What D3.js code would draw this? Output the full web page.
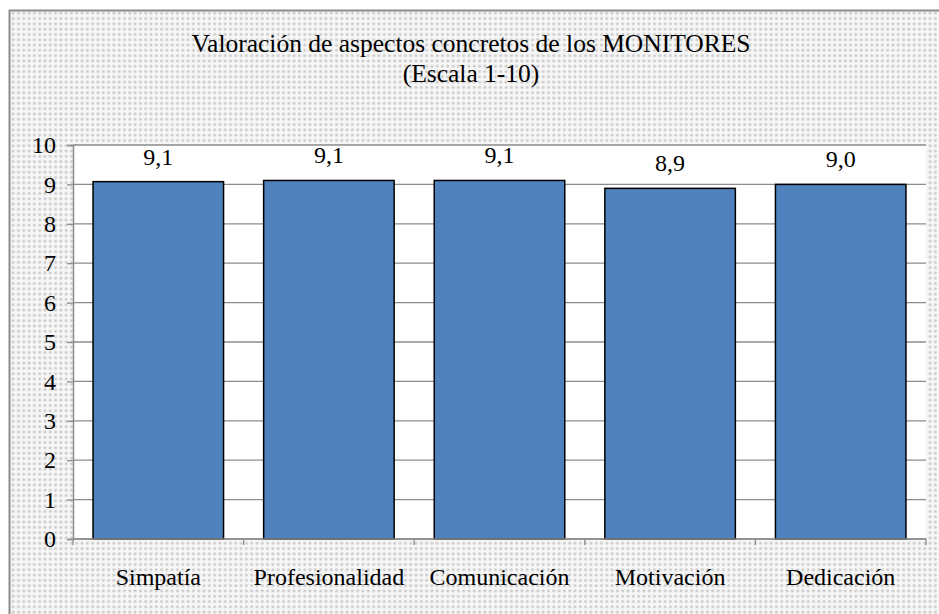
<!DOCTYPE html>
<html>
<head>
<meta charset="utf-8">
<script src="https://cdn.jsdelivr.net/npm/d3@7"></script>
<style>
  body { margin: 0; background: #fff; }
  text { font-family: "Liberation Serif", "Times New Roman", serif; fill: #000; }
</style>
</head>
<body>
<div id="chart"></div>
<script>
var categories = ["Simpatía", "Profesionalidad", "Comunicación", "Motivación", "Dedicación"];
var values = [9.07, 9.1, 9.1, 8.9, 9.0];
var valueLabels = ["9,1", "9,1", "9,1", "8,9", "9,0"];
var yTicks = [0, 1, 2, 3, 4, 5, 6, 7, 8, 9, 10];

var fullwidth = 939, fullheight = 614;
var margin = { top: 145, right: 13, bottom: 75, left: 73 };
var width = fullwidth - margin.left - margin.right;
var height = fullheight - margin.top - margin.bottom;
var serif = "'Liberation Serif', 'Times New Roman', serif";

var svg = d3.select("#chart").append("svg")
    .attr("width", fullwidth)
    .attr("height", fullheight);

// dotted background pattern
var defs = svg.append("defs");
var pat = defs.append("pattern")
    .attr("id", "dots")
    .attr("width", 5.3).attr("height", 5.3)
    .attr("patternUnits", "userSpaceOnUse");
pat.append("rect").attr("width", 5.3).attr("height", 5.3).attr("fill", "#f7f7f7");
pat.append("circle").attr("cx", 2.6).attr("cy", 2.6).attr("r", 1.6).attr("fill", "#cdcdcd");

svg.append("rect")
    .attr("x", 9.5).attr("y", 10.5)
    .attr("width", fullwidth + 10).attr("height", fullheight + 10)
    .attr("fill", "url(#dots)")
    .attr("stroke", "#8c8c8c")
    .attr("stroke-width", 2);

// title
svg.append("text")
    .attr("x", 471).attr("y", 52)
    .attr("text-anchor", "middle")
    .style("font-family", serif)
    .style("font-size", "25.5px")
    .text("Valoración de aspectos concretos de los MONITORES");
svg.append("text")
    .attr("x", 471).attr("y", 82)
    .attr("text-anchor", "middle")
    .style("font-family", serif)
    .style("font-size", "25.5px")
    .text("(Escala 1-10)");

var g = svg.append("g")
    .attr("transform", "translate(" + margin.left + "," + margin.top + ")");

var xScale = d3.scaleBand()
    .domain(categories)
    .range([0, width])
    .paddingInner(0.235)
    .paddingOuter(0.1175);

var yScale = d3.scaleLinear()
    .domain([0, 10])
    .range([height, 0]);

// plot area
g.append("rect")
    .attr("width", width).attr("height", height)
    .attr("fill", "#fff");

// gridlines
g.selectAll("line.grid")
    .data(yTicks)
    .enter().append("line")
    .attr("class", "grid")
    .attr("x1", 0).attr("x2", width)
    .attr("y1", function(d) { return yScale(d); })
    .attr("y2", function(d) { return yScale(d); })
    .attr("stroke", "#8c8c8c")
    .attr("stroke-width", 1.3);

// bars
g.selectAll("rect.bar")
    .data(values)
    .enter().append("rect")
    .attr("class", "bar")
    .attr("x", function(d, i) { return xScale(categories[i]); })
    .attr("width", xScale.bandwidth())
    .attr("y", function(d) { return yScale(d); })
    .attr("height", function(d) { return height - yScale(d); })
    .attr("fill", "#4f81bd")
    .attr("stroke", "#000")
    .attr("stroke-width", 1.5);

// value labels
g.selectAll("text.val")
    .data(values)
    .enter().append("text")
    .attr("class", "val")
    .attr("x", function(d, i) { return xScale(categories[i]) + xScale.bandwidth() / 2; })
    .attr("y", function(d) { return yScale(d) - 17; })
    .attr("text-anchor", "middle")
    .style("font-family", serif)
    .style("font-size", "24px")
    .text(function(d, i) { return valueLabels[i]; });

// y axis
var yAxis = d3.axisLeft(yScale).tickValues(yTicks).tickSize(6).tickPadding(11);
var yG = g.append("g").call(yAxis);
yG.select(".domain").attr("stroke", "#8c8c8c").attr("stroke-width", 1.5);
yG.selectAll(".tick line").attr("stroke", "#8c8c8c").attr("stroke-width", 1.3);
yG.selectAll("text")
    .style("font-size", "24px")
    .style("font-family", serif)
    .attr("fill", "#000");

// x axis with ticks at category boundaries
var boundaries = d3.range(categories.length + 1).map(function(i) { return i * width / categories.length; });
var xG = g.append("g").attr("transform", "translate(0," + height + ")");
xG.append("line")
    .attr("x1", 0).attr("x2", width)
    .attr("stroke", "#8c8c8c").attr("stroke-width", 1.5);
xG.selectAll("line.tk")
    .data(boundaries)
    .enter().append("line")
    .attr("class", "tk")
    .attr("x1", function(d) { return d; }).attr("x2", function(d) { return d; })
    .attr("y1", 0).attr("y2", 6)
    .attr("stroke", "#8c8c8c").attr("stroke-width", 1.3);
xG.selectAll("text")
    .data(categories)
    .enter().append("text")
    .attr("x", function(d) { return xScale(d) + xScale.bandwidth() / 2; })
    .attr("y", 46)
    .attr("text-anchor", "middle")
    .style("font-family", serif)
    .style("font-size", "24px")
    .text(function(d) { return d; });
</script>
</body>
</html>
